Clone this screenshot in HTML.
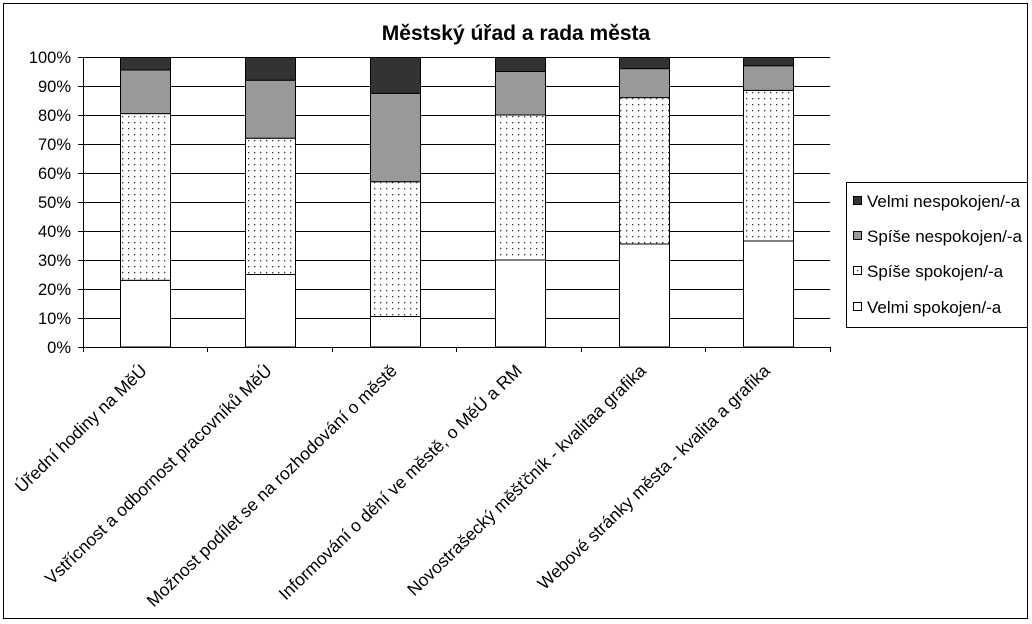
<!DOCTYPE html>
<html><head><meta charset="utf-8"><style>
html,body{margin:0;padding:0;background:#fff;}
svg{display:block;font-family:"Liberation Sans",Arial,sans-serif;}
</style></head><body>
<svg width="1032" height="624" viewBox="0 0 1032 624" xmlns="http://www.w3.org/2000/svg">
<defs>
<pattern id="dots" width="6" height="6" patternUnits="userSpaceOnUse">
<rect width="6" height="6" fill="#fff"/><rect x="2" y="2" width="1.3" height="1.3" fill="#333"/>
</pattern>
</defs>
<rect x="3.5" y="3.5" width="1024" height="615" fill="#fff" stroke="#000" stroke-width="1"/>
<text x="516" y="40" font-size="21" font-weight="bold" text-anchor="middle">Městský úřad a rada města</text>
<g stroke="#000" stroke-width="1">
<line x1="83" y1="57.5" x2="830" y2="57.5"/>
<line x1="83" y1="86.5" x2="830" y2="86.5"/>
<line x1="83" y1="115.5" x2="830" y2="115.5"/>
<line x1="83" y1="144.5" x2="830" y2="144.5"/>
<line x1="83" y1="173.5" x2="830" y2="173.5"/>
<line x1="83" y1="202.5" x2="830" y2="202.5"/>
<line x1="83" y1="231.5" x2="830" y2="231.5"/>
<line x1="83" y1="260.5" x2="830" y2="260.5"/>
<line x1="83" y1="289.5" x2="830" y2="289.5"/>
<line x1="83" y1="318.5" x2="830" y2="318.5"/>
<line x1="78" y1="347.5" x2="830" y2="347.5"/>
<line x1="83.5" y1="57" x2="83.5" y2="347"/>
</g>
<g stroke="#000" stroke-width="1">
<line x1="78" y1="57.5" x2="83" y2="57.5"/><line x1="78" y1="86.5" x2="83" y2="86.5"/><line x1="78" y1="115.5" x2="83" y2="115.5"/><line x1="78" y1="144.5" x2="83" y2="144.5"/><line x1="78" y1="173.5" x2="83" y2="173.5"/><line x1="78" y1="202.5" x2="83" y2="202.5"/><line x1="78" y1="231.5" x2="83" y2="231.5"/><line x1="78" y1="260.5" x2="83" y2="260.5"/><line x1="78" y1="289.5" x2="83" y2="289.5"/><line x1="78" y1="318.5" x2="83" y2="318.5"/>
<line x1="207.5" y1="347" x2="207.5" y2="352"/><line x1="332.5" y1="347" x2="332.5" y2="352"/><line x1="456.5" y1="347" x2="456.5" y2="352"/><line x1="581.5" y1="347" x2="581.5" y2="352"/><line x1="705.5" y1="347" x2="705.5" y2="352"/><line x1="830.5" y1="347" x2="830.5" y2="352"/><line x1="83.5" y1="347" x2="83.5" y2="352"/>
</g>
<g font-size="16.5" text-anchor="end">
<text x="71" y="63">100%</text><text x="71" y="92">90%</text><text x="71" y="121">80%</text><text x="71" y="150">70%</text><text x="71" y="179">60%</text><text x="71" y="208">50%</text><text x="71" y="237">40%</text><text x="71" y="266">30%</text><text x="71" y="295">20%</text><text x="71" y="324">10%</text><text x="71" y="353">0%</text>
</g>
<g stroke="#000" stroke-width="1">
<rect x="120.5" y="280.3" width="50" height="66.7" fill="#fff"/>
<rect x="120.5" y="113.6" width="50" height="166.7" fill="url(#dots)"/>
<rect x="120.5" y="70" width="50" height="43.6" fill="#999"/>
<rect x="120.5" y="57.5" width="50" height="12.5" fill="#333"/>
<rect x="245.5" y="274.5" width="50" height="72.5" fill="#fff"/>
<rect x="245.5" y="138.2" width="50" height="136.3" fill="url(#dots)"/>
<rect x="245.5" y="80.2" width="50" height="58" fill="#999"/>
<rect x="245.5" y="57.5" width="50" height="22.7" fill="#333"/>
<rect x="370.5" y="316.5" width="50" height="30.5" fill="#fff"/>
<rect x="370.5" y="181.7" width="50" height="134.8" fill="url(#dots)"/>
<rect x="370.5" y="93.3" width="50" height="88.4" fill="#999"/>
<rect x="370.5" y="57.5" width="50" height="35.8" fill="#333"/>
<rect x="495.5" y="260" width="50" height="87" fill="#fff"/>
<rect x="495.5" y="115" width="50" height="145" fill="url(#dots)"/>
<rect x="495.5" y="71.5" width="50" height="43.5" fill="#999"/>
<rect x="495.5" y="57.5" width="50" height="14" fill="#333"/>
<rect x="619.5" y="244" width="50" height="103" fill="#fff"/>
<rect x="619.5" y="97.6" width="50" height="146.4" fill="url(#dots)"/>
<rect x="619.5" y="68.6" width="50" height="29" fill="#999"/>
<rect x="619.5" y="57.5" width="50" height="11.1" fill="#333"/>
<rect x="743.5" y="241" width="50" height="106" fill="#fff"/>
<rect x="743.5" y="90.4" width="50" height="150.6" fill="url(#dots)"/>
<rect x="743.5" y="65.7" width="50" height="24.7" fill="#999"/>
<rect x="743.5" y="57.5" width="50" height="8.2" fill="#333"/>
</g>
<g font-size="17.5" text-anchor="end">
<text transform="translate(148,372) rotate(-44)">Úřední hodiny na MěÚ</text>
<text transform="translate(273,372) rotate(-44)">Vstřícnost a odbornost pracovníků MěÚ</text>
<text transform="translate(398,372) rotate(-44)">Možnost podílet se na rozhodování o městě</text>
<text transform="translate(523,372) rotate(-44)">Informování o dění ve městě, o MěÚ a RM</text>
<text transform="translate(647,372) rotate(-44)">Novostrašecký měšťčník - kvalitaa grafika</text>
<text transform="translate(771,372) rotate(-44)">Webové stránky města - kvalita a grafika</text>
</g>
<rect x="846.5" y="182.5" width="181" height="145" fill="#fff" stroke="#000"/>
<g stroke="#000" stroke-width="1">
<rect x="853.5" y="196.5" width="8" height="8" fill="#333"/>
<rect x="853.5" y="231.5" width="8" height="8" fill="#999"/>
<rect x="853.5" y="266.5" width="8" height="8" fill="#fff"/>
<rect x="857" y="270" width="1.3" height="1.3" fill="#333" stroke="none"/>
<rect x="853.5" y="302.5" width="8" height="8" fill="#fff"/>
</g>
<g font-size="17">
<text x="867" y="207">Velmi nespokojen/-a</text>
<text x="867" y="242">Spíše nespokojen/-a</text>
<text x="867" y="277">Spíše spokojen/-a</text>
<text x="867" y="313">Velmi spokojen/-a</text>
</g>
</svg>
</body></html>
